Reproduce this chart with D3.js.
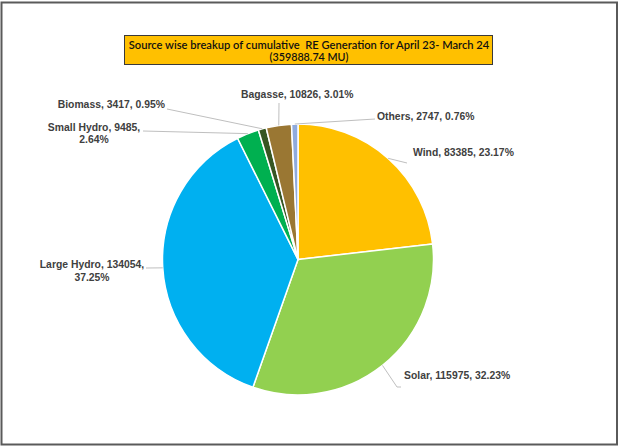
<!DOCTYPE html>
<html><head><meta charset="utf-8">
<script src="https://cdn.jsdelivr.net/npm/d3@7/dist/d3.min.js"></script>
<style>html,body{margin:0;padding:0;background:#fff;}svg{display:block;}text{white-space:pre;}</style>
</head><body>
<script>
const categories = ["Wind","Solar","Large Hydro","Small Hydro","Biomass","Bagasse","Others"];
const values = [83385,115975,134054,9485,3417,10826,2747];
const percents = ["23.17%","32.23%","37.25%","2.64%","0.95%","3.01%","0.76%"];
const colors = ["#FFC000","#92D050","#00B0F0","#00B050","#375623","#9A7733","#8FAADC"];
const titleLines = ["Source wise breakup of cumulative  RE Generation for April 23- March 24","(359888.74 MU)"];

const W=620,H=447;
const svg=d3.select("body").append("svg").attr("width",W).attr("height",H);
svg.append("rect").attr("x",0).attr("y",0).attr("width",W).attr("height",H).attr("fill","#fff");
// outer frame
svg.append("rect").attr("x",1.5).attr("y",2.5).attr("width",615.5).attr("height",442).attr("fill","none").attr("stroke","#5a5a5a").attr("stroke-width",2);

const cx=298, cy=259.5, R=135.5;
const pie=d3.pie().sort(null).value(d=>d.v).startAngle(0).endAngle(2*Math.PI);
const data=categories.map((c,i)=>({c,v:values[i],p:percents[i],col:colors[i]}));
const arcs=pie(data);
const arc=d3.arc().innerRadius(0).outerRadius(R);
const g=svg.append("g").attr("transform",`translate(${cx},${cy})`);
g.selectAll("path").data(arcs).join("path").attr("d",arc).attr("fill",d=>d.data.col).attr("stroke","#fff").attr("stroke-width",1.5).attr("stroke-linejoin","round");

const layout={
 "Wind":{lines:["Wind, 83385, 23.17%"],anchor:"start",x:413,y:156,leader:[[407,163]]},
 "Solar":{lines:["Solar, 115975, 32.23%"],anchor:"start",x:404,y:379,leader:[[397,387],[401,387]]},
 "Large Hydro":{lines:["Large Hydro, 134054,","37.25%"],anchor:"middle",x:92,y:268,leader:[[146,268]]},
 "Small Hydro":{lines:["Small Hydro, 9485,","2.64%"],anchor:"middle",x:94,y:130.5,leader:[[143,131]]},
 "Biomass":{lines:["Biomass, 3417, 0.95%"],anchor:"end",x:165,y:108,leader:[[167,109]]},
 "Bagasse":{lines:["Bagasse, 10826, 3.01%"],anchor:"start",x:241,y:98,leader:[[279,103]]},
 "Others":{lines:["Others, 2747, 0.76%"],anchor:"start",x:377,y:120,leader:[[375,119]]}
};
const sx=0.88;
arcs.forEach(a=>{
  const L=layout[a.data.c];
  const m=(a.startAngle+a.endAngle)/2;
  const p0=[cx+R*Math.sin(m), cy-R*Math.cos(m)];
  const pts=[p0].concat(L.leader);
  svg.append("path").attr("d",d3.line()(pts)).attr("fill","none").attr("stroke","#bfbfbf").attr("stroke-width",1);
  L.lines.forEach((t,j)=>{
    const txt=(L.lines.length>1 ? t : a.data.c+", "+a.data.v+", "+a.data.p);
    svg.append("g").attr("transform",`translate(${L.x},${L.y+j*12.5}) scale(${sx},1)`)
      .append("text").attr("text-anchor",L.anchor)
      .attr("font-family","Liberation Sans, Arial, sans-serif").attr("font-weight","bold").attr("font-size","11.8px").attr("fill","#404040")
      .text(txt);
  });
});

// title box
svg.append("rect").attr("x",124.5).attr("y",35.5).attr("width",368).attr("height",29).attr("fill","#FFC000").attr("stroke","#3a3a3a").attr("stroke-width",1);
const tw=[361,79];
titleLines.forEach((t,i)=>{
  const gg=svg.append("g");
  const tt=gg.append("text").attr("text-anchor","middle").attr("font-family","Lato, 'Open Sans', sans-serif").attr("font-weight","600").attr("font-size","11px").attr("fill","#111").text(t);
  const len=tt.node().getComputedTextLength();
  gg.attr("transform",`translate(309,${49+i*12.3}) scale(${tw[i]/len},1)`);
});
</script>
</body></html>
